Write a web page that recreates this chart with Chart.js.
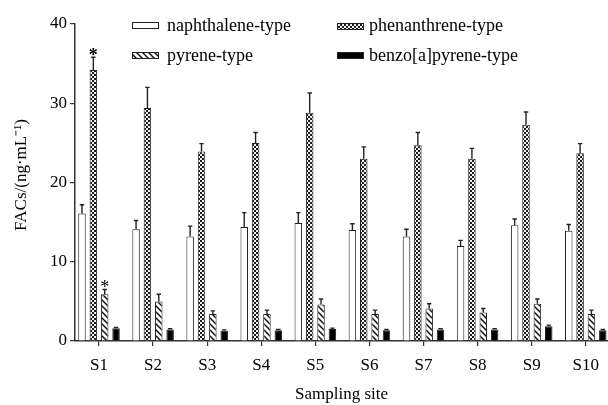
<!DOCTYPE html>
<html><head><meta charset="utf-8">
<style>html,body{margin:0;padding:0;background:#fff;overflow:hidden;width:608px;height:405px}</style>
<script src="https://cdn.jsdelivr.net/npm/chart.js@4"></script>
</head><body>
<canvas id="c" width="608" height="405"></canvas>
<script>
const categories = ['S1','S2','S3','S4','S5','S6','S7','S8','S9','S10'];
const seriesNames = ['naphthalene-type','phenanthrene-type','pyrene-type','benzo[a]pyrene-type'];
const naphthalene    = [16.1,14.1,13.2,14.4,14.9,14.0,13.2,12.0,14.6,13.9];
const naphthaleneErr = [1.1,1.1,1.3,1.8,1.3,0.8,0.9,0.7,0.8,0.8];
const phenanthrene    = [34.2,29.4,23.9,25.0,28.8,23.0,24.7,23.0,27.3,23.7];
const phenanthreneErr = [1.6,2.6,1.0,1.3,2.5,1.5,1.6,1.3,1.6,1.2];
const pyrene    = [5.9,5.0,3.4,3.4,4.6,3.4,4.1,3.6,4.7,3.4];
const pyreneErr = [0.6,0.9,0.4,0.5,0.7,0.5,0.6,0.5,0.6,0.5];
const benzo    = [1.6,1.45,1.3,1.35,1.5,1.35,1.45,1.45,1.85,1.35];
const benzoErr = [0.12,0.1,0.1,0.1,0.12,0.1,0.1,0.1,0.15,0.1];
const yTicks = [0,10,20,30,40];
const significance = [{dataset:1,index:0,bold:true},{dataset:2,index:0,bold:false}];

const FONT = '"Liberation Serif","Times New Roman",serif';

function checker(){
  const c=document.createElement('canvas');c.width=4;c.height=4;
  const g=c.getContext('2d');g.fillStyle='#f2f2f2';g.fillRect(0,0,4,4);
  g.fillStyle='#1c1c1c';g.fillRect(0,0,2,2);g.fillRect(2,2,2,2);
  return g.createPattern(c,'repeat');
}
function hatch(){
  const c=document.createElement('canvas');c.width=6;c.height=6;
  const g=c.getContext('2d');g.fillStyle='#fff';g.fillRect(0,0,6,6);
  g.strokeStyle='#111';g.lineWidth=1.5;g.beginPath();
  g.moveTo(-1,-1);g.lineTo(7,7);g.moveTo(-1,5);g.lineTo(1,7);g.moveTo(5,-1);g.lineTo(7,1);g.stroke();
  return g.createPattern(c,'repeat');
}
const fills = ['#ffffff', checker(), hatch(), '#000000'];
const values = [naphthalene, phenanthrene, pyrene, benzo];
const errors = [naphthaleneErr, phenanthreneErr, pyreneErr, benzoErr];

const datasets = seriesNames.map((n,k)=>({
  label:n,
  data: values[k].map((v,i)=>({x:i+1,y:v})),
  err: errors[k],
  backgroundColor: fills[k],
  borderColor:'#222', borderWidth:1,
  categoryPercentage:0.84, barPercentage:0.66
}));

const extras = {
  id:'extras',
  afterDatasetsDraw(chart){
    const ctx=chart.ctx, ys=chart.scales.y;
    ctx.save();
    chart.data.datasets.forEach((ds,k)=>{
      const meta=chart.getDatasetMeta(k);
      meta.data.forEach((el,i)=>{
        const v=ds.data[i].y, e=ds.err[i];
        const yt=ys.getPixelForValue(v+e);
        ctx.strokeStyle='#222';ctx.lineWidth=1.4;
        ctx.beginPath();ctx.moveTo(el.x,el.y);ctx.lineTo(el.x,yt);
        ctx.moveTo(el.x-2.2,yt);ctx.lineTo(el.x+2.2,yt);ctx.stroke();
      });
    });
    significance.forEach(s=>{
      const ds=chart.data.datasets[s.dataset];
      const el=chart.getDatasetMeta(s.dataset).data[s.index];
      const yt=ys.getPixelForValue(ds.data[s.index].y+ds.err[s.index]);
      ctx.fillStyle='#000';ctx.textAlign='center';ctx.textBaseline='alphabetic';
      ctx.font=(s.bold?'bold ':'')+'18px '+FONT;
      ctx.fillText('*',el.x,yt+4);
    });
    ctx.save();ctx.translate(22,175);ctx.rotate(-Math.PI/2);
    ctx.font='17px '+FONT;ctx.fillStyle='#000';ctx.textAlign='center';ctx.textBaseline='middle';
    ctx.fillText('FACs/(ng·mL⁻¹)',0,0);ctx.restore();
    const pos=[[132,22,167,26],[337,23,369,26],[132,52,167,56],[337,52,369,56]];
    [0,1,2,3].forEach(k=>{
      const p=pos[k];
      ctx.fillStyle=fills[k];ctx.fillRect(p[0],p[1],26,6);
      ctx.strokeStyle='#222';ctx.lineWidth=1;ctx.strokeRect(p[0]+0.5,p[1]+0.5,26,6);
      ctx.fillStyle='#000';ctx.font='18px '+FONT;ctx.textAlign='left';ctx.textBaseline='middle';
      ctx.fillText(seriesNames[k],p[2],p[3]);
    });
    ctx.restore();
  }
};

new Chart(document.getElementById('c'),{
  type:'bar',
  data:{datasets},
  options:{
    responsive:false, animation:false,
    layout:{padding:{top:24,left:0,right:0,bottom:0}},
    plugins:{legend:{display:false},tooltip:{enabled:false}},
    scales:{
      x:{type:'linear',min:0.556,max:10.41,offset:false,
        afterBuildTicks(s){s.ticks=categories.map((_,i)=>({value:i+1}));},
        afterFit(s){s.height=64;},
        ticks:{autoSkip:false,font:{family:FONT,size:17},color:'#000',padding:9,maxRotation:0,
          callback:(v)=>categories[Math.round(v)-1]},
        grid:{display:true,offset:false,drawOnChartArea:false,drawTicks:true,tickLength:5,color:'#333',lineWidth:1.2},
        border:{display:true,color:'#333',width:1.5},
        title:{display:true,text:'Sampling site',font:{family:FONT,size:17},color:'#000',padding:{top:2,bottom:0}}
      },
      y:{min:0,max:40,
        afterBuildTicks(s){s.ticks=yTicks.map(v=>({value:v}));},
        afterFit(s){s.width=75;},
        ticks:{font:{family:FONT,size:17},color:'#000',padding:3},
        grid:{display:true,drawOnChartArea:false,drawTicks:true,tickLength:5,color:'#333',lineWidth:1.2},
        border:{display:true,color:'#333',width:1.5}
      }
    }
  },
  plugins:[extras]
});
</script>
</body></html>
